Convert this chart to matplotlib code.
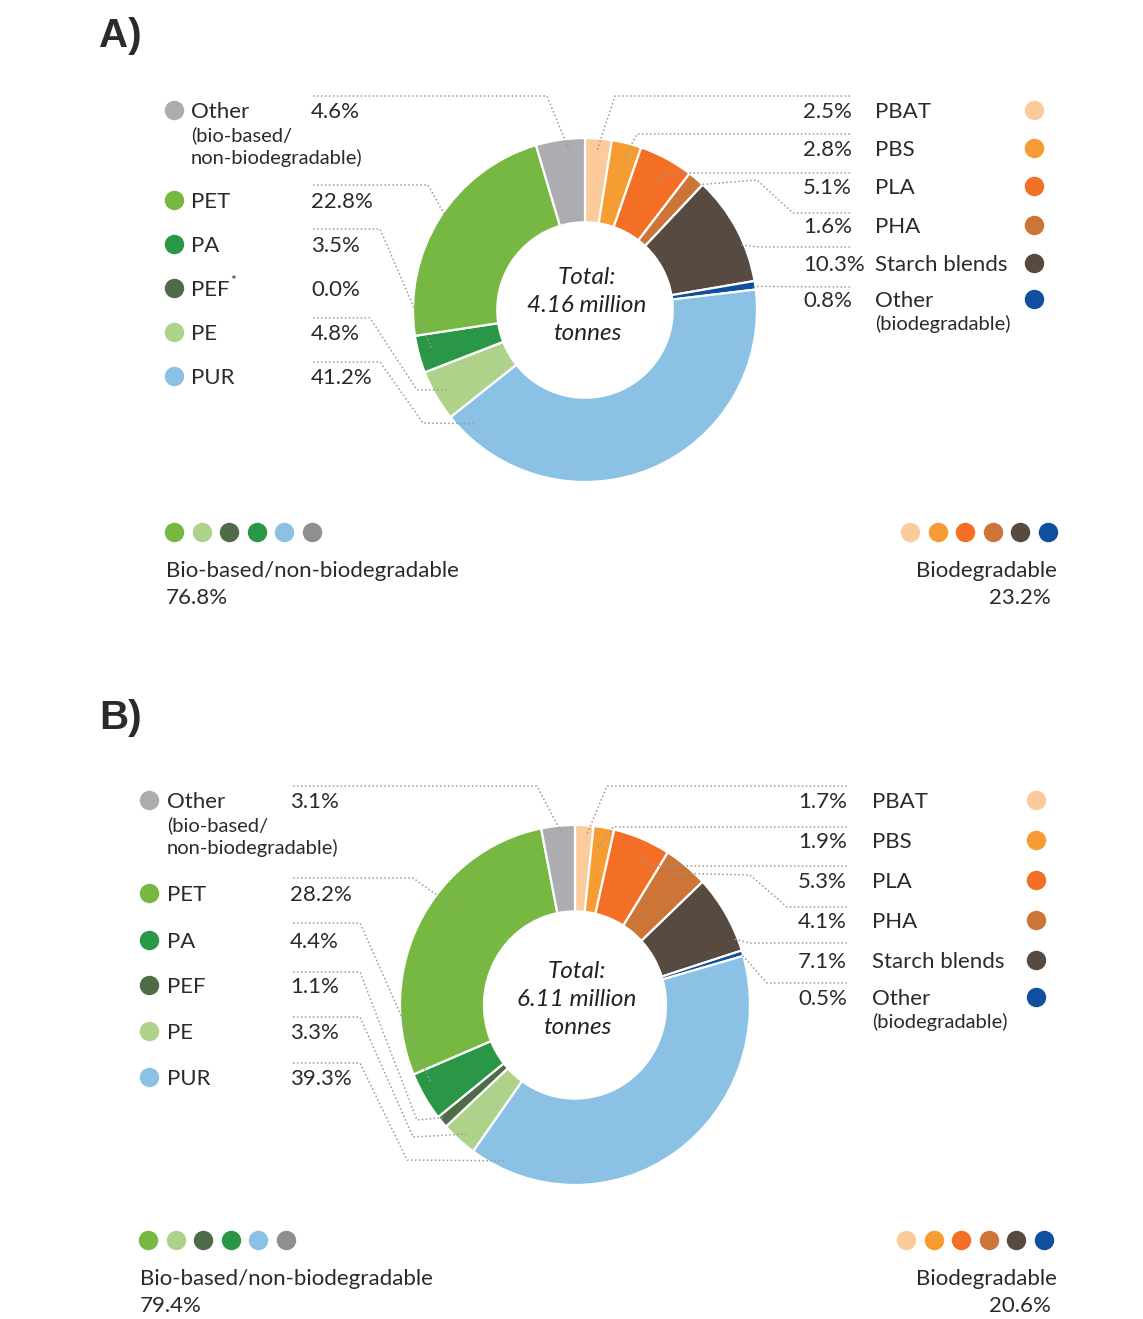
import numpy as np
import matplotlib.pyplot as plt

W, H = 1143, 1319

# categories and colours
left_names = ['Other', 'PET', 'PA', 'PEF', 'PE', 'PUR']
right_names = ['PBAT', 'PBS', 'PLA', 'PHA', 'Starch blends', 'Other']
left_colors = ['#abadb0', '#77b843', '#2a9747', '#4f6b48', '#afd28a', '#8cc1e6']
right_colors = ['#fccb9b', '#f59c32', '#f26f25', '#cd7437', '#574a40', '#0f4f9e']

# shares in % (A: 2018, B: 2023)
a_left = [4.6, 22.8, 3.5, 0.0, 4.8, 41.2]
a_right = [2.5, 2.8, 5.1, 1.6, 10.3, 0.8]
b_left = [3.1, 28.2, 4.4, 1.1, 3.3, 39.3]
b_right = [1.7, 1.9, 5.3, 4.1, 7.1, 0.5]

a_total = '4.16'
b_total = '6.11'
a_groups = [76.8, 23.2]
b_groups = [79.4, 20.6]

TXT = '#2a2a2a'
LINE = '#9a9a9a'
FONT = 'Lato'

fig = plt.figure(figsize=(W / 100, H / 100), dpi=100)
fig.patch.set_facecolor('white')


def donut(cx, cy, rx, ry, lvals, rvals, width):
    vals = rvals + lvals[::-1]
    cols = right_colors + left_colors[::-1]
    pax = fig.add_axes([(cx - 1.25 * rx) / W, 1 - (cy + 1.25 * ry) / H,
                        2.5 * rx / W, 2.5 * ry / H])
    pax.pie(vals, colors=cols, startangle=90, counterclock=False,
            wedgeprops=dict(width=width, edgecolor='white', linewidth=1.6))
    pax.set_xlim(-1.25, 1.25)
    pax.set_ylim(-1.25, 1.25)
    pax.set_aspect('auto')
    return vals


def slice_point(vals, idx, t, r, cx, cy, rx, ry):
    cum = np.concatenate([[0.0], np.cumsum(vals)])
    phi = 2 * np.pi * (cum[idx] + t * vals[idx]) / cum[-1]
    return cx + rx * r * np.sin(phi), cy - ry * r * np.cos(phi)


A = dict(cx=585, cy=310, rx=172, ry=172)
B = dict(cx=575, cy=1005, rx=175, ry=180)
vals_a = donut(A['cx'], A['cy'], A['rx'], A['ry'], a_left, a_right, 0.49)
vals_b = donut(B['cx'], B['cy'], B['rx'], B['ry'], b_left, b_right, 0.48)

ax = fig.add_axes([0, 0, 1, 1], zorder=5)
ax.set_xlim(0, W)
ax.set_ylim(H, 0)
ax.axis('off')


def txt(x, y, s, size=16, ha='left', **kw):
    # y is the visual centre of capitals
    ax.text(x, y + size * 0.47, s, fontsize=size, ha=ha, va='baseline',
            color=TXT, family=FONT, **kw)


def dot(x, y, c, ms=14):
    ax.plot([x], [y], 'o', ms=ms, color=c, mec='none')


def panel(tag, tag_y, lvals, rvals, vals, geo, left_x, left_rows, right_x,
          right_rows, right_ha, leaders, groups, bottom_y, bl_x, br_x,
          pef_star):
    ax.text(99, tag_y, tag, fontsize=29, fontweight='bold', ha='left',
            va='center', color='#2b2b2b', family='Liberation Sans')
    dx, lx, vx = left_x
    for i, (n, v, y) in enumerate(zip(left_names, lvals, left_rows)):
        dot(dx, y, left_colors[i])
        txt(lx, y, n)
        txt(vx, y, '%.1f%%' % v)
    if pef_star:
        ax.text(lx + 39, left_rows[3] - 7, '*', fontsize=10, color=TXT,
                family=FONT, ha='left', va='center')
    txt(lx, left_rows[0] + 24, '(bio-based/', size=14.5)
    txt(lx, left_rows[0] + 47, 'non-biodegradable)', size=14.5)

    rvx, rlx, rdx = right_x
    for i, (n, v, y) in enumerate(zip(right_names, rvals, right_rows)):
        dot(rdx, y, right_colors[i])
        txt(rlx, y, n)
        txt(rvx, y, '%.1f%%' % v, ha=right_ha)
    txt(rlx, right_rows[-1] + 24, '(biodegradable)', size=14.5)

    # centre text
    total = a_total if tag == 'A)' else b_total
    for k, s in enumerate(['Total:', '%s million' % total, 'tonnes']):
        ax.text(geo['cx'] + 2, geo['cy'] - 33 + k * 28, s, fontsize=17.5,
                style='italic', ha='center', va='center', color='#222222',
                family=FONT)

    # leader lines
    for idx, pts, t, r in leaders:
        end = slice_point(vals, idx, t, r, geo['cx'], geo['cy'], geo['rx'], geo['ry'])
        xs = [p[0] for p in pts] + [end[0]]
        ys = [p[1] for p in pts] + [end[1]]
        ax.plot(xs, ys, color=LINE, lw=1.1, ls=(0, (1, 1.6)),
                solid_capstyle='butt')

    # bottom group summary
    bl_order = [1, 4, 3, 2, 5]
    bl_cols = [left_colors[i] for i in bl_order] + ['#8e8f90']
    for k, c in enumerate(bl_cols):
        dot(bl_x + 8 + k * 27.5, bottom_y, c)
    for k, c in enumerate(right_colors):
        dot(br_x + k * 27.5, bottom_y, c)
    txt(bl_x, bottom_y + 37, 'Bio-based/non-biodegradable')
    txt(bl_x, bottom_y + 64, '%.1f%%' % groups[0])
    txt(1057, bottom_y + 37, 'Biodegradable', ha='right')
    txt(1051, bottom_y + 64, '%.1f%%' % groups[1], ha='right')


# leader layout: (pie index, elbow points in px, position in slice, radius)
leaders_a = [
    (11, [(313, 96), (547, 96)], 0.65, 0.94),
    (10, [(313, 185), (428, 185)], 0.5, 0.93),
    (9, [(313, 229), (380, 229)], 0.6, 0.92),
    (7, [(313, 318), (370, 318), (417, 390)], 0.48, 0.92),
    (6, [(313, 362), (380, 362), (423, 423)], 0.95, 0.92),
    (0, [(850, 96), (615, 96)], 0.48, 0.93),
    (1, [(850, 134), (637, 134)], 0.52, 0.9),
    (2, [(850, 173), (665, 173)], 0.54, 0.86),
    (3, [(850, 213), (793, 213), (757, 180)], 0.7, 0.97),
    (4, [(850, 247), (760, 247)], 0.65, 0.98),
    (5, [(850, 287)], 0.6, 0.99),
]
leaders_b = [
    (11, [(293, 786), (537, 786)], 0.63, 0.94),
    (10, [(293, 878), (413, 878)], 0.6, 0.84),
    (9, [(293, 923), (360, 923)], 0.68, 0.93),
    (8, [(293, 972), (360, 972), (417, 1120)], 0.6, 0.97),
    (7, [(293, 1017), (360, 1017), (413, 1137)], 0.45, 0.95),
    (6, [(293, 1063), (360, 1063), (407, 1160)], 0.92, 0.95),
    (0, [(847, 786), (607, 786)], 0.67, 0.95),
    (1, [(847, 827), (613, 827)], 0.3, 0.87),
    (2, [(847, 866), (647, 866)], 0.5, 0.92),
    (3, [(847, 907), (787, 907), (750, 875)], 0.41, 0.93),
    (4, [(847, 943), (750, 943)], 0.83, 0.98),
    (5, [(847, 983), (767, 983)], 0.5, 0.99),
]

panel('A)', 36, a_left, a_right, vals_a, A, (174, 191, 311),
      [110, 200, 244, 288, 332, 376], (803, 875, 1034),
      [110, 148, 186, 225, 263, 299], 'left', leaders_a, a_groups,
      532, 166, 910, True)
panel('B)', 718, b_left, b_right, vals_b, B, (149, 167, 290),
      [800, 893, 940, 985, 1031, 1077], (847, 872, 1036),
      [800, 840, 880, 920, 960, 997], 'right', leaders_b, b_groups,
      1240, 140, 906, False)

fig.savefig('out.png', dpi=100, facecolor='white')
